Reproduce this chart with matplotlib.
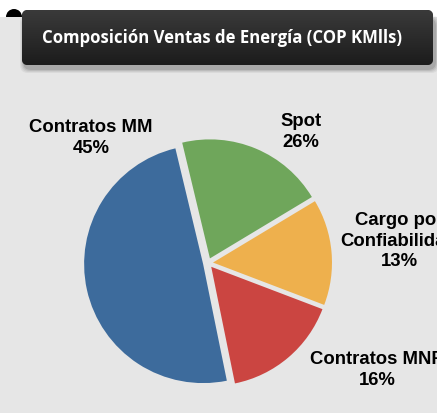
import matplotlib
matplotlib.use("Agg")
import matplotlib.pyplot as plt
import numpy as np
from matplotlib import font_manager
from matplotlib.patches import FancyBboxPatch, Rectangle, Wedge

# data
categories = ["Contratos MM", "Spot", "Cargo por\nConfiabilidad", "Contratos MNR"]
values = [49.4, 20.1, 14.4, 16.0]
pct_labels = ["45%", "26%", "13%", "16%"]
colors = ["#3d6b9c", "#6fa65b", "#eeb04d", "#cb4541"]
title = "Composición Ventas de Energía (COP KMlls)"

# label centres in pixel coords (x, y from top)
label_pos = [(91, 138), (301, 132), (399, 241), (377, 370)]

W, H = 437, 413
BG = "#e6e6e6"


def pick_font(names):
    have = {f.name for f in font_manager.fontManager.ttflist}
    for n in names:
        if n in have:
            return n
    return "DejaVu Sans"


title_font = pick_font(["Liberation Sans Narrow", "Open Sans", "Noto Sans", "DejaVu Sans"])
label_font = pick_font(["Liberation Sans", "Arial", "DejaVu Sans"])

fig = plt.figure(figsize=(W / 100, H / 100), dpi=100)
fig.patch.set_facecolor("white")

# pixel axes for background, header and labels
ax = fig.add_axes([0, 0, 1, 1])
ax.set_xlim(0, W)
ax.set_ylim(0, H)
ax.axis("off")

ax.add_patch(Rectangle((0, 0), W, H - 17, facecolor=BG, edgecolor="none", zorder=0))

# header shadow
for i, a in enumerate([0.05, 0.06, 0.08, 0.10]):
    g = 4 - i
    ax.add_patch(FancyBboxPatch((24 - g, H - 69 - g), 411 + 2 * g, 50 + 2 * g,
                                boxstyle="round,pad=0,rounding_size=8",
                                facecolor="black", edgecolor="none", alpha=a, zorder=1))

# ribbon fold
ax.add_patch(Wedge((14, H - 17), 8, 0, 180, facecolor="black", edgecolor="none", zorder=2))

box = FancyBboxPatch((22, H - 65), 411, 55, boxstyle="round,pad=0,rounding_size=6",
                     facecolor="#262626", edgecolor="none", zorder=2)
ax.add_patch(box)
grad = np.linspace(0, 1, 64).reshape(-1, 1)
img = ax.imshow(grad, cmap=matplotlib.colors.LinearSegmentedColormap.from_list(
    "hdr", ["#1c1c1c", "#3a3a3a"]), extent=(22, 433, H - 65, H - 10),
    origin="lower", aspect="auto", zorder=3)
img.set_clip_path(box)

t = ax.text(42, H - 38, title, color="white", fontsize=13, fontweight="bold",
            family=title_font, ha="left", va="center", zorder=4)
fig.canvas.draw()
tw = t.get_window_extent().width
t.set_fontsize(13 * 358 / tw)

# pie in its own axes, radius 1 == 119 px
R, cx, cy = 119, 208, H - 263
pax = fig.add_axes([0, 0, 1, 1])
pax.pie(values, colors=colors, startangle=-78.5, counterclock=False,
        explode=[0.042] * 4, wedgeprops=dict(linewidth=0))
pax.set_xlim(-cx / R, (W - cx) / R)
pax.set_ylim(-cy / R, (H - cy) / R)
pax.set_aspect("auto")
pax.axis("off")

for name, pct, (lx, ly) in zip(categories, pct_labels, label_pos):
    ax.text(lx, H - ly, name + "\n" + pct, ha="center", va="center", fontsize=13.3,
            fontweight="bold", family=label_font, linespacing=1.3, zorder=5)

fig.savefig("out.png", dpi=100, facecolor=fig.get_facecolor())
